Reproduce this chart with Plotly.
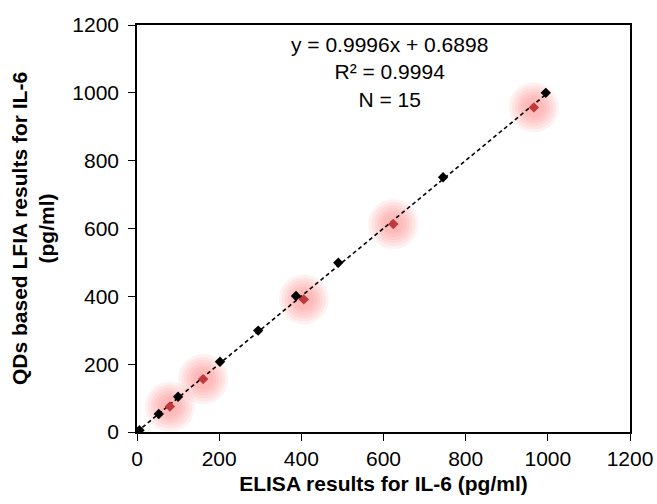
import plotly.graph_objects as go

# Data
elisa_black = [0, 6, 53, 100, 202, 295, 387, 490, 745, 995]
lfia_black = [0, 5, 53, 104, 207, 299, 401, 499, 751, 1000]
elisa_red = [80, 161, 406, 624, 966]
lfia_red = [75, 156, 391, 613, 957]
slope = 0.9996
intercept = 0.6898
fit_x = [0, 1000]
x_ticks = [0, 200, 400, 600, 800, 1000, 1200]
y_ticks = [0, 200, 400, 600, 800, 1000, 1200]

FONT = "Liberation Sans, Arial, sans-serif"

fig = go.Figure()

# soft glow behind red points (stacked translucent circles)
for sz in [50, 44, 38, 32, 26, 20]:
    fig.add_trace(go.Scatter(
        x=elisa_red, y=lfia_red, mode="markers",
        marker=dict(symbol="circle", size=sz, color="rgba(255,90,90,0.085)",
                    line=dict(width=0)),
        hoverinfo="skip", showlegend=False))

fig.add_trace(go.Scatter(
    x=fit_x, y=[slope * v + intercept for v in fit_x], mode="lines",
    line=dict(color="black", width=1.6, dash="4px,3px"),
    showlegend=False))

fig.add_trace(go.Scatter(
    x=elisa_black, y=lfia_black, mode="markers",
    marker=dict(symbol="diamond", size=8, color="black"),
    showlegend=False))

fig.add_trace(go.Scatter(
    x=elisa_red, y=lfia_red, mode="markers",
    marker=dict(symbol="diamond", size=8, color="#c0393b"),
    showlegend=False))

fig.add_annotation(
    x=614, y=1062, xref="x", yref="y", showarrow=False,
    text="y = 0.9996x + 0.6898<br>R² = 0.9994<br>N = 15",
    font=dict(family=FONT, size=21, color="black"), align="center")

axis_common = dict(
    range=[0, 1200], showgrid=False, zeroline=False, automargin=False,
    showline=True, linecolor="black", linewidth=1.5, mirror=True,
    ticks="outside", ticklen=7, tickcolor="black", tickwidth=1,
    tickfont=dict(family=FONT, size=21, color="black"),
)

fig.update_xaxes(**axis_common, tickvals=x_ticks,
                 title=dict(text="<b>ELISA results for IL-6 (pg/ml)</b>",
                            font=dict(family=FONT, size=21, color="black"),
                            standoff=7))
fig.update_yaxes(**axis_common, tickvals=y_ticks, ticklabelstandoff=5,
                 title=dict(text="<b>QDs based LFIA results for IL-6<br>(pg/ml)</b>",
                            font=dict(family=FONT, size=21, color="black"),
                            standoff=12))

fig.update_layout(
    width=657, height=504,
    margin=dict(l=137, r=27, t=25, b=72),
    paper_bgcolor="white", plot_bgcolor="white",
    font=dict(family=FONT),
)

fig.write_html("out.html", config={"displayModeBar": False},
               post_script="document.body.style.margin='0px';")
